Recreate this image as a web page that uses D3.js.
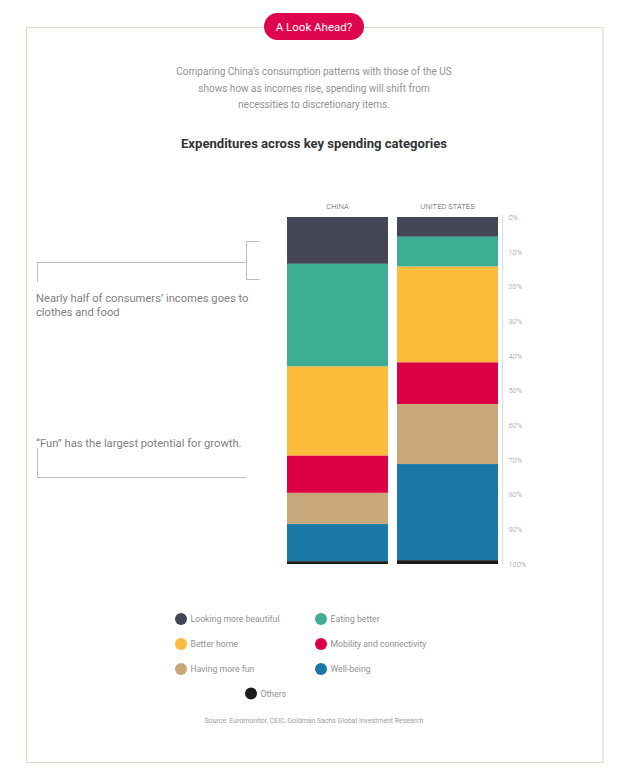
<!DOCTYPE html>
<html>
<head>
<meta charset="utf-8">
<script src="https://cdn.jsdelivr.net/npm/d3@7"></script>
<style>
  html, body { margin: 0; padding: 0; background: #fff; }
  svg { display: block; font-family: Roboto, "Liberation Sans", Arial, sans-serif; }
</style>
</head>
<body>
<svg id="chart" width="640" height="778"></svg>
<script>
// ---- data ----
const countries = ["CHINA", "UNITED STATES"];
const categories = ["Looking more beautiful", "Eating better", "Better home", "Mobility and connectivity", "Having more fun", "Well-being", "Others"];
const chinaShares = [13.5, 29.6, 25.7, 10.7, 9.0, 10.7, 0.8];
const usShares = [5.7, 8.6, 27.6, 12.0, 17.3, 27.7, 1.1];
const colors = ["#434656", "#3dae93", "#fbbc3c", "#dc0045", "#c8a77a", "#1978a5", "#1b1b1b"];
const tickValues = [0, 10, 20, 30, 40, 50, 60, 70, 80, 90, 100];
const subtitleLines = [
  "Comparing China\u2019s consumption patterns with those of the US",
  "shows how as incomes rise, spending will shift from",
  "necessities to discretionary items."
];
const chartTitle = "Expenditures across key spending categories";
const badgeText = "A Look Ahead?";
const note1Lines = ["Nearly half of consumers\u2019 incomes goes to", "clothes and food"];
const note2Lines = ["\u201CFun\u201D has the largest potential for growth."];
const sourceText = "Source: Euromonitor, CEIC, Goldman Sachs Global Investment Research";

const svg = d3.select("#chart");

// frame
svg.append("rect").attr("x", 26.5).attr("y", 27.5).attr("width", 576.5).attr("height", 735)
  .attr("fill", "none").attr("stroke", "#e2dccb").attr("stroke-width", 1.2);

// badge
svg.append("rect").attr("x", 264).attr("y", 13).attr("width", 100).attr("height", 27)
  .attr("rx", 13.5).attr("fill", "#e0064e");
svg.append("text").attr("x", 314).attr("y", 30.5).attr("text-anchor", "middle")
  .attr("fill", "#fff").attr("font-size", 11.5).text(badgeText);

// subtitle
svg.append("g").selectAll("text").data(subtitleLines).join("text")
  .attr("x", 314).attr("y", (d, i) => 75 + i * 16.5)
  .attr("text-anchor", "middle").attr("fill", "#929292").attr("font-size", 10)
  .text(d => d);

// title
svg.append("text").attr("x", 314).attr("y", 147.5).attr("text-anchor", "middle")
  .attr("fill", "#333").attr("font-size", 13.1).attr("font-weight", "bold").text(chartTitle);

// scales
const y = d3.scaleLinear().domain([0, 100]).range([217, 564]);
const x = d3.scaleBand().domain(countries).range([287, 498]).paddingInner(0.082);
const color = d3.scaleOrdinal().domain(categories).range(colors);

const table = countries.map((c, ci) => {
  const vals = ci === 0 ? chinaShares : usShares;
  let acc = 0;
  return vals.map((v, i) => { const s = { country: c, cat: categories[i], y0: acc, y1: acc + v }; acc += v; return s; });
}).flat();

svg.append("g").selectAll("rect").data(table).join("rect")
  .attr("x", d => x(d.country)).attr("width", x.bandwidth())
  .attr("y", d => y(d.y0)).attr("height", d => y(d.y1) - y(d.y0))
  .attr("fill", d => color(d.cat));

// column labels
svg.append("g").selectAll("text").data(countries).join("text")
  .attr("x", d => x(d) + x.bandwidth() / 2).attr("y", 208.5)
  .attr("text-anchor", "middle").attr("fill", "#555").attr("font-size", 7.6)
  .attr("font-weight", 300)
  .text(d => d);

// axis
const axis = d3.axisRight(y).tickValues(tickValues).tickSize(0).tickPadding(6).tickFormat(d => d + "%");
const ag = svg.append("g").attr("transform", "translate(502.5,0)").call(axis);
ag.select(".domain").attr("stroke", "#d6dbe2").attr("d", `M0,${y(0) - 2}V${y(100)}`);
ag.selectAll("text").attr("fill", "#909090").attr("font-size", 7.4).attr("font-family", "Roboto, sans-serif").attr("font-weight", 300);

// annotations
const ann = svg.append("g").attr("fill", "none").attr("stroke", "#a9a9a9").attr("stroke-width", 0.8);
ann.append("path").attr("d", "M37.5,282V262.5H246.5 M259.5,241.5H246.5V279.5H259.5");
ann.append("path").attr("d", "M37.5,448V477.5H246.5");

svg.append("g").selectAll("text").data(note1Lines).join("text")
  .attr("x", 36).attr("y", (d, i) => 302 + i * 14)
  .attr("fill", "#808080").attr("font-size", 11.2).text(d => d);
svg.append("g").selectAll("text").data(note2Lines).join("text")
  .attr("x", 36).attr("y", 446.5)
  .attr("fill", "#808080").attr("font-size", 11.2).text(d => d);

// legend
const legendPos = [[181, 619], [321, 619], [181, 644], [321, 644], [181, 669], [321, 669], [251, 693.5]];
const lg = svg.append("g").selectAll("g").data(categories).join("g")
  .attr("transform", (d, i) => `translate(${legendPos[i][0]},${legendPos[i][1]})`);
lg.append("circle").attr("r", 6).attr("fill", d => color(d));
lg.append("text").attr("x", 9.5).attr("y", 3.3).attr("fill", "#919191").attr("font-size", 8.7).text(d => d);

// source
svg.append("text").attr("x", 314).attr("y", 722.5).attr("text-anchor", "middle")
  .attr("fill", "#a0a0a0").attr("font-size", 6.9)
  .text(sourceText);
</script>
</body>
</html>
